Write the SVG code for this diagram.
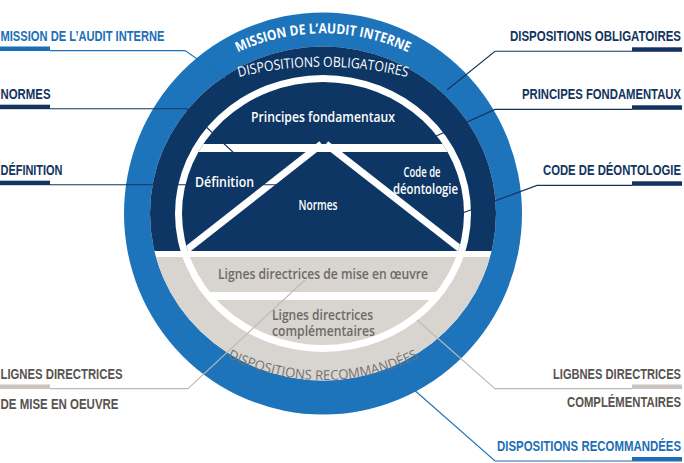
<svg xmlns="http://www.w3.org/2000/svg" width="684" height="463" viewBox="0 0 684 463">
  <defs>
    <style>
      .lbl{font-family:"Liberation Sans Narrow","Liberation Sans",Arial,sans-serif;font-weight:bold;font-size:15.5px}
      .lbl-blue{fill:#1c6fb6}
      .lbl-navy{fill:#12345e}
      .lbl-grey{fill:#57534f}
      .bar-blue{fill:#1c6fb6}
      .bar-navy{fill:#12345e}
      .bar-grey{fill:#c9c4c0}
      .in{font-family:"Open Sans","Noto Sans",sans-serif;font-weight:600;font-size:14px;text-anchor:middle}
      .in-w{fill:#ffffff}
      .in-g{fill:#6e6a66;font-size:13.5px}
      .ring{font-family:"Open Sans","Noto Sans",sans-serif;text-anchor:middle}
      .ld{fill:none;stroke-width:1.1}
      .ld-blue{stroke:#1c6fb6}
      .ld-navy{stroke:#12345e}
      .ld-grey{stroke:#bdb9b5}
    </style>
    <clipPath id="upper"><rect x="0" y="0" width="684" height="251"/></clipPath>
    <clipPath id="lower"><rect x="0" y="257" width="684" height="206"/></clipPath>
    <clipPath id="band1"><rect x="0" y="257" width="684" height="35"/></clipPath>
    <clipPath id="band2"><rect x="0" y="300" width="684" height="163"/></clipPath>
    <clipPath id="core"><ellipse cx="323" cy="213.5" rx="141" ry="131.5"/></clipPath>
    <path id="arcMission" d="M181.6,91.9 A200,200 0 0 1 464.4,91.9"/>
    <path id="arcOblig" d="M175.1,99.5 A350,350 0 0 1 470.9,99.5"/>
    <path id="arcRecom" d="M184.2,329.5 A216,216 0 0 0 461.8,329.5"/>
  </defs>

  <!-- concentric rings and inner regions -->
  <g id="rings">
    <ellipse cx="323" cy="213.5" rx="199" ry="201" fill="#1e74bb"/>
    <ellipse cx="323" cy="213.5" rx="173" ry="167" fill="#ffffff"/>
    <ellipse cx="323" cy="213.5" rx="173" ry="167" fill="#0d3664" clip-path="url(#upper)"/>
    <ellipse cx="323" cy="213.5" rx="173" ry="167" fill="#d8d5d0" clip-path="url(#lower)"/>
    <ellipse cx="323" cy="213.5" rx="148" ry="138.5" fill="#ffffff"/>
    <ellipse cx="323" cy="213.5" rx="141" ry="131.5" fill="#0d3664" clip-path="url(#upper)"/>
    <ellipse cx="323" cy="213.5" rx="141" ry="131.5" fill="#d8d5d0" clip-path="url(#band1)"/>
    <ellipse cx="323" cy="213.5" rx="141" ry="131.5" fill="#d8d5d0" clip-path="url(#band2)"/>
    <g clip-path="url(#core)" fill="none" stroke="#ffffff" stroke-width="7">
      <rect x="150" y="144" width="350" height="8" fill="#ffffff" stroke="none"/>
      <line x1="321.5" y1="144" x2="182.7" y2="253"/>
      <line x1="326" y1="144" x2="465.5" y2="253"/>
    </g>
  </g>

  <!-- leader lines -->
  <g id="connectors" class="ld">
    <path class="ld-blue" d="M50,50.6 H185 L225,78"/>
    <path class="ld-navy" d="M50,108.8 H187 L236,155"/>
    <path class="ld-navy" d="M50,184.8 H276"/>
    <path class="ld-navy" d="M632,51.3 H495 L447,90"/>
    <path class="ld-navy" d="M632,109.4 H495 L434,137"/>
    <path class="ld-navy" d="M632,185.4 H537 L457,215"/>
    <path class="ld-grey" d="M50,388.6 H188 L305,280"/>
    <path class="ld-grey" d="M632,388.6 H495 L417,320"/>
    <path class="ld-blue" d="M632,461 H495 L412,388"/>
  </g>

  <!-- ring captions -->
  <g id="ring-mission">
    <text class="ring" font-size="14" font-weight="bold" fill="#ffffff"><textPath href="#arcMission" startOffset="50%" textLength="176" lengthAdjust="spacingAndGlyphs">MISSION DE L’AUDIT INTERNE</textPath></text>
  </g>
  <g id="ring-obligatoires">
    <text class="ring" font-size="14" fill="#ffffff"><textPath href="#arcOblig" startOffset="50%" textLength="170" lengthAdjust="spacingAndGlyphs">DISPOSITIONS OBLIGATOIRES</textPath></text>
  </g>
  <g id="ring-recommandees">
    <text class="ring" font-size="13.5" fill="#767270"><textPath href="#arcRecom" startOffset="50%" textLength="198" lengthAdjust="spacingAndGlyphs">DISPOSITIONS RECOMMANDÉES</textPath></text>
  </g>

  <!-- inner regions -->
  <g id="principes">
    <text class="in in-w" x="323" y="122" textLength="144" lengthAdjust="spacingAndGlyphs">Principes fondamentaux</text>
  </g>
  <g id="definition">
    <text class="in in-w" x="224.5" y="187" textLength="59" lengthAdjust="spacingAndGlyphs">Définition</text>
  </g>
  <g id="normes">
    <text class="in in-w" x="318" y="210" textLength="39" lengthAdjust="spacingAndGlyphs">Normes</text>
  </g>
  <g id="code">
    <text class="in in-w" x="422" y="176.5" textLength="37" lengthAdjust="spacingAndGlyphs">Code de</text>
    <text class="in in-w" x="425.5" y="193.5" textLength="65" lengthAdjust="spacingAndGlyphs">déontologie</text>
  </g>
  <g id="mise-en-oeuvre">
    <text class="in in-g" x="323" y="278.5" textLength="210" lengthAdjust="spacingAndGlyphs">Lignes directrices de mise en œuvre</text>
  </g>
  <g id="complementaires">
    <text class="in in-g" x="322.5" y="320" textLength="101" lengthAdjust="spacingAndGlyphs">Lignes directrices</text>
    <text class="in in-g" x="323.5" y="335.5" textLength="103" lengthAdjust="spacingAndGlyphs">complémentaires</text>
  </g>

  <!-- side labels -->
  <g id="label-mission">
    <text class="lbl lbl-blue" x="0.5" y="41" textLength="164" lengthAdjust="spacingAndGlyphs">MISSION DE L’AUDIT INTERNE</text>
    <rect class="bar-blue" x="0" y="46.5" width="50" height="4.5"/>
  </g>
  <g id="label-normes">
    <text class="lbl lbl-navy" x="0.5" y="99" textLength="50" lengthAdjust="spacingAndGlyphs">NORMES</text>
    <rect class="bar-navy" x="0" y="104.7" width="50" height="4.5"/>
  </g>
  <g id="label-definition">
    <text class="lbl lbl-navy" x="0.5" y="174.5" textLength="62" lengthAdjust="spacingAndGlyphs">DÉFINITION</text>
    <rect class="bar-navy" x="0" y="180.7" width="50" height="4.5"/>
  </g>
  <g id="label-lignes-oeuvre">
    <text class="lbl lbl-grey" x="0.5" y="379" textLength="122" lengthAdjust="spacingAndGlyphs">LIGNES DIRECTRICES</text>
    <rect class="bar-grey" x="0" y="384.5" width="50" height="4.5"/>
    <text class="lbl lbl-grey" x="0.5" y="409" textLength="118" lengthAdjust="spacingAndGlyphs">DE MISE EN OEUVRE</text>
  </g>
  <g id="label-obligatoires">
    <text class="lbl lbl-navy" x="681" y="41" text-anchor="end" textLength="171" lengthAdjust="spacingAndGlyphs">DISPOSITIONS OBLIGATOIRES</text>
    <rect class="bar-navy" x="632" y="47.3" width="50" height="4.5"/>
  </g>
  <g id="label-principes">
    <text class="lbl lbl-navy" x="681" y="99" text-anchor="end" textLength="159" lengthAdjust="spacingAndGlyphs">PRINCIPES FONDAMENTAUX</text>
    <rect class="bar-navy" x="632" y="105.3" width="50" height="4.5"/>
  </g>
  <g id="label-code">
    <text class="lbl lbl-navy" x="681" y="175" text-anchor="end" textLength="138" lengthAdjust="spacingAndGlyphs">CODE DE DÉONTOLOGIE</text>
    <rect class="bar-navy" x="632" y="181.3" width="50" height="4.5"/>
  </g>
  <g id="label-complementaires">
    <text class="lbl lbl-grey" x="681" y="379" text-anchor="end" textLength="128" lengthAdjust="spacingAndGlyphs">LIGBNES DIRECTRICES</text>
    <rect class="bar-grey" x="632" y="384.5" width="50" height="4.5"/>
    <text class="lbl lbl-grey" x="681" y="407" text-anchor="end" textLength="114" lengthAdjust="spacingAndGlyphs">COMPLÉMENTAIRES</text>
  </g>
  <g id="label-recommandees">
    <text class="lbl lbl-blue" x="681" y="451" text-anchor="end" textLength="184" lengthAdjust="spacingAndGlyphs">DISPOSITIONS RECOMMANDÉES</text>
    <rect class="bar-blue" x="632" y="457" width="50" height="4.5"/>
  </g>
</svg>
